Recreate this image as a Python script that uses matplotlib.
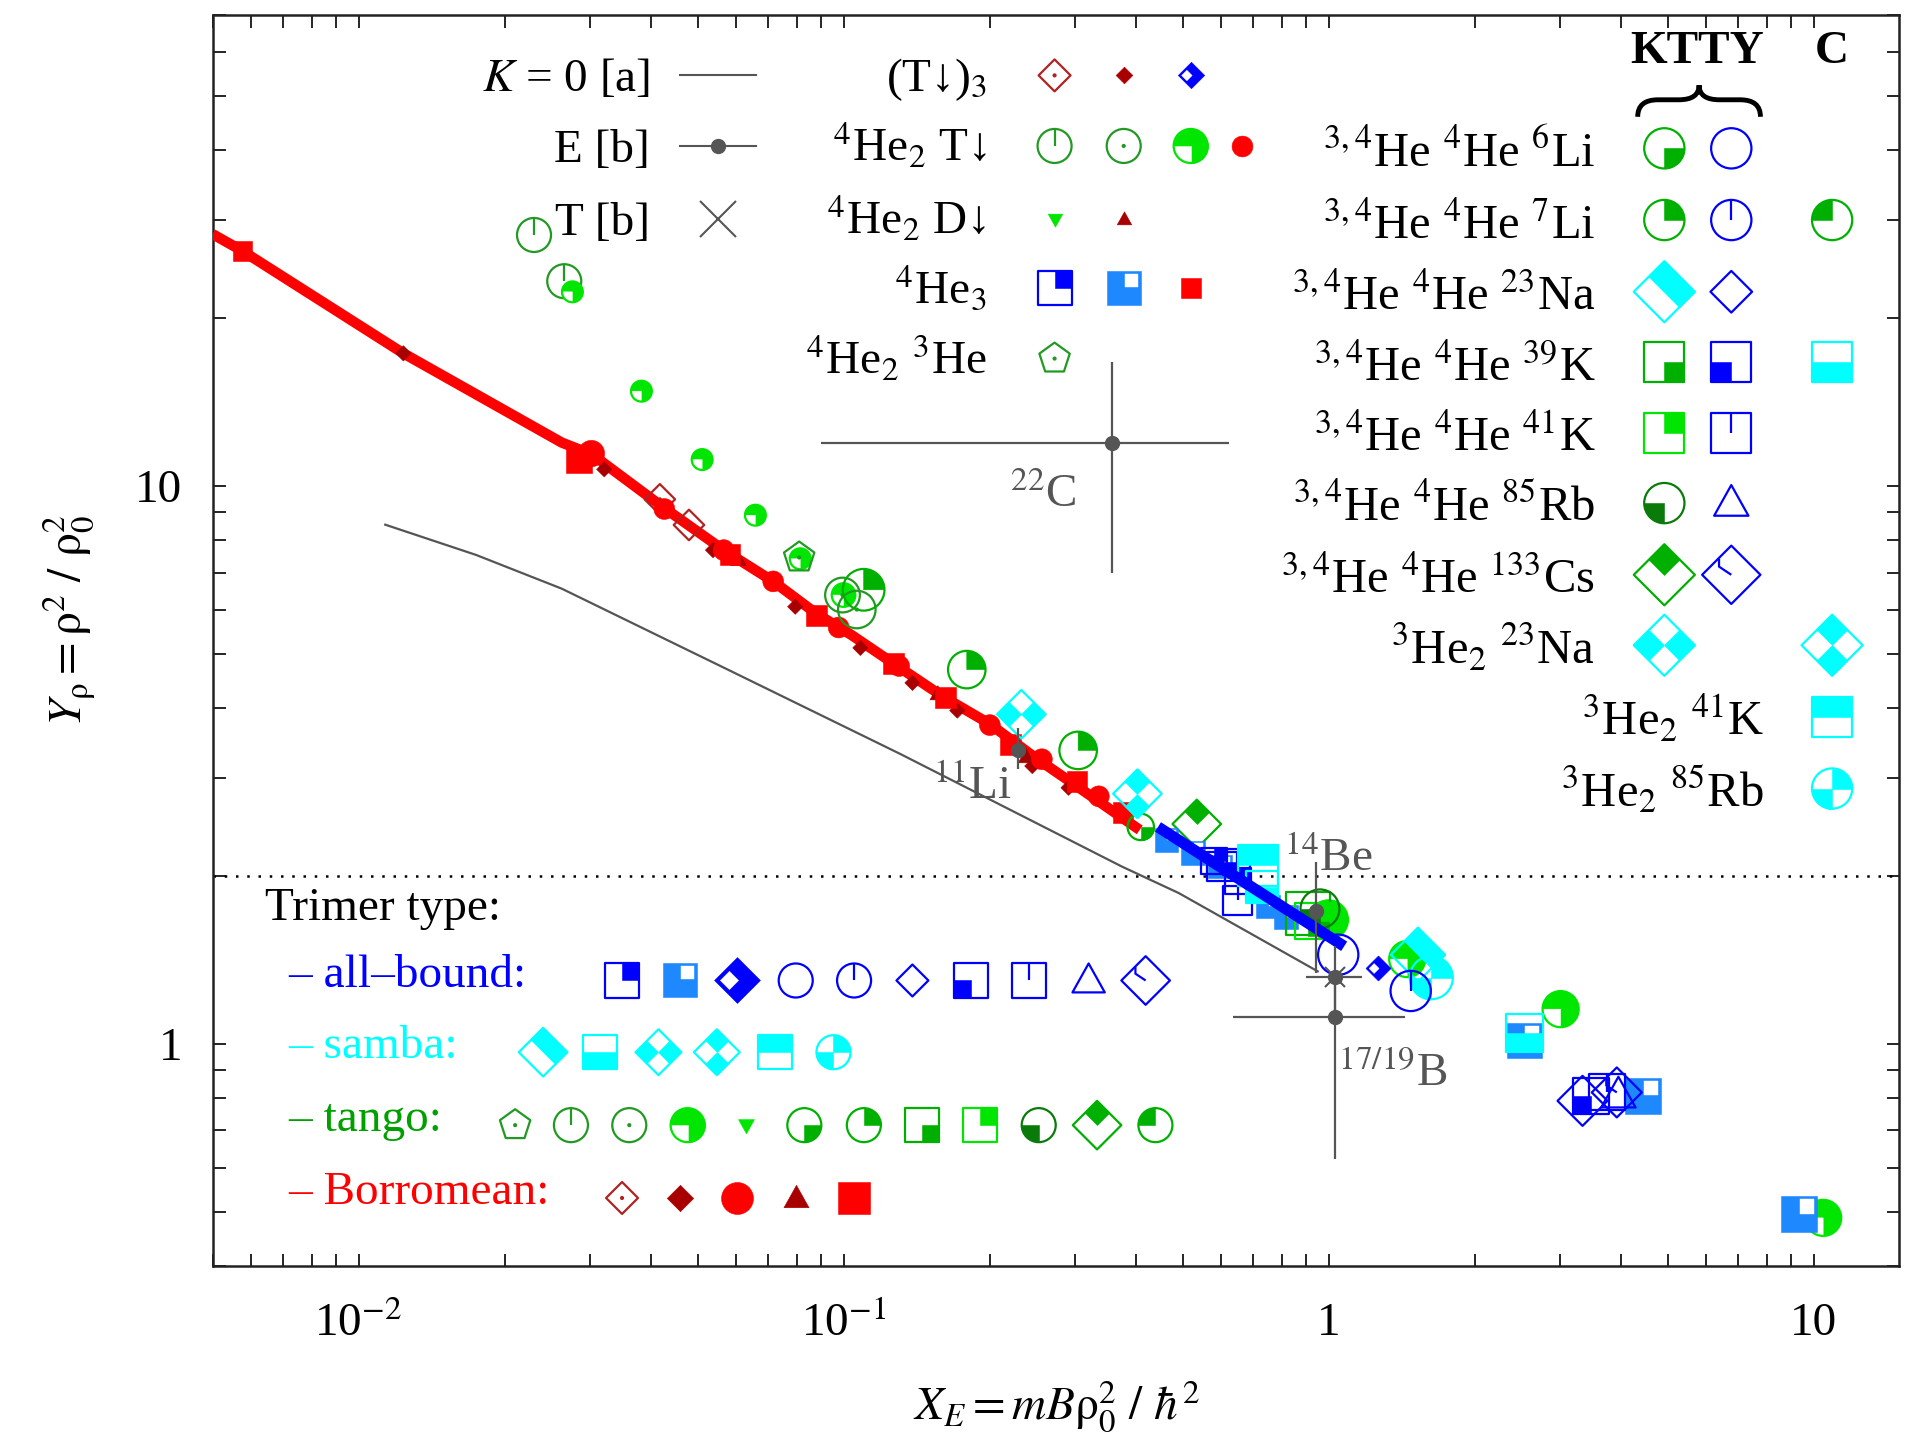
import numpy as np
import matplotlib
matplotlib.use("Agg")
import matplotlib.pyplot as plt
from matplotlib.path import Path
from matplotlib.patches import PathPatch
from matplotlib.ticker import LogLocator, NullFormatter, FixedLocator, FixedFormatter

plt.rcParams['font.family'] = ['Liberation Serif', 'DejaVu Serif']
plt.rcParams['mathtext.fontset'] = 'stix'

# ---------------- data ----------------
# K = 0 model curve [a]
k0_x = [0.01135, 0.01746, 0.02624, 0.0583, 0.131, 0.375, 0.491, 0.950]
k0_y = [8.53, 7.53, 6.55, 4.67, 3.31, 2.08, 1.865, 1.35]

# thick fit line: Borromean part (red) and all-bound part (blue)
red_x = [0.005, 0.00576, 0.01237, 0.02624, 0.0303, 0.0420, 0.0566, 0.0716,
         0.0881, 0.1035, 0.125, 0.160, 0.200, 0.245, 0.306, 0.408]
red_y = [28.3, 26.4, 17.3, 11.97, 11.4, 9.23, 7.68, 6.75,
         5.90, 5.42, 4.85, 4.20, 3.75, 3.29, 2.88, 2.42]
blue_x = [0.445, 1.077]
blue_y = [2.45, 1.497]

# nuclei, E [b] with error bars
nuc_x = [0.358, 0.229, 0.944, 1.029, 1.029]
nuc_y = [11.97, 3.37, 1.73, 1.32, 1.116]
nuc_xlo = [0.090, 0.229, 0.944, 0.897, 0.635]
nuc_xhi = [0.624, 0.229, 0.944, 1.175, 1.436]
nuc_ylo = [6.98, 3.11, 1.342, 1.116, 0.623]
nuc_yhi = [16.7, 3.69, 2.12, 1.497, 1.32]
nuc_names = ['$^{22}$C', '$^{11}$Li', '$^{14}$Be', '$^{17/19}$B']
nuc_lab_x = [0.2209, 0.153, 0.809, 1.047]
nuc_lab_y = [9.19, 2.75, 2.04, 0.840]
# T [b]
tb_x = [1.029]
tb_y = [1.32]

# Borromean (red) trimers
bor_sq_x = [0.00576, 0.02844, 0.0583, 0.0881, 0.1266, 0.162, 0.2209, 0.3029, 0.377]
bor_sq_y = [26.4, 11.16, 7.53, 5.87, 4.81, 4.18, 3.44, 2.96, 2.60]
bor_ci_x = [0.0302, 0.0427, 0.0566, 0.0716, 0.0977, 0.1302, 0.2003, 0.2564, 0.336]
bor_ci_y = [11.44, 9.10, 7.68, 6.75, 5.58, 4.76, 3.73, 3.24, 2.78]
bor_di_x = [0.01237, 0.0321, 0.0538, 0.0795, 0.1083, 0.1387, 0.1716, 0.245, 0.291]
bor_di_y = [17.3, 10.72, 7.68, 6.08, 5.13, 4.44, 3.96, 3.15, 2.88]
bor_tr_x = [0.0607, 0.1565, 0.238]
bor_tr_y = [7.38, 4.24, 3.27]
bor_od_x = [0.0418, 0.048]
bor_od_y = [9.47, 8.52]

# tango (green) trimers
he2t_ring_x = [0.0230, 0.02655]
he2t_ring_y = [28.2, 23.3]
he2t_full_x = [0.0276, 0.0383, 0.0511, 0.0658, 0.0814, 0.100, 1.0, 1.453, 3.01, 10.47]
he2t_full_y = [22.3, 14.8, 11.16, 8.87, 7.41, 6.38, 1.67, 1.42, 1.155, 0.488]
he2t_dot_x = [0.0995, 0.1065]
he2t_dot_y = [6.38, 6.01]
he23_x = [0.081]
he23_y = [7.45]
li7_k_x = [0.110, 0.1795, 0.3046]
li7_k_y = [6.52, 4.69, 3.36]
li6_k_x = [0.41]
li6_k_y = [2.45]
cs_k_x = [0.535]
cs_k_y = [2.48]
k39_k_x = [0.907]
k39_k_y = [1.713]
k41_k_x = [0.928]
k41_k_y = [1.66]
rb_k_x = [0.960]
rb_k_y = [1.747]

# samba (cyan) trimers
na3_k_x = [0.2326]
na3_k_y = [3.90]
na3_c_x = [0.4036]
na3_c_y = [2.81]
k41_3c_x = [0.716]
k41_3c_y = [2.09]
k39_c_x = [0.729, 2.535]
k39_c_y = [1.91, 1.046]
na_k_x = [1.529]
na_k_y = [1.446]
rb3_c_x = [1.629]
rb3_c_y = [1.315]

# all-bound (blue) trimers
he3_a_x = [0.580, 0.650]
he3_a_y = [2.13, 1.96]
he3_b_x = [0.463, 0.526, 0.5965, 0.750, 0.818, 2.535, 4.45, 9.33]
he3_b_y = [2.32, 2.20, 2.08, 1.765, 1.688, 1.015, 0.807, 0.495]
k39_b_x = [0.646, 3.48]
k39_b_y = [2.12, 0.807]
k41_b_x = [0.603, 0.650, 3.75]
k41_b_y = [2.08, 1.81, 0.819]
li6_b_x = [1.047]
li6_b_y = [1.446]
li7_b_x = [1.477]
li7_b_y = [1.245]
t3_b_x = [1.265]
t3_b_y = [1.369]
na_b_x = [3.34]
na_b_y = [0.791]
rb_b_x = [3.96]
rb_b_y = [0.811]
cs_b_x = [3.93]
cs_b_y = [0.819]

# ---------------- colours ----------------
BL = '#0000ff'; AZ = '#1e88ff'; CY = '#00ffff'
GD = '#229922'; GM = '#00b000'; GB = '#00e600'; GK = '#0a7a0a'
RD = '#ff0000'; DR = '#a80000'; FB = '#b22222'
GR = '#555555'
FS = 34

# ---------------- gnuplot-like symbols ----------------
def poly(*pts):
    v = list(pts) + [pts[0]]
    return Path(v, [Path.MOVETO] + [Path.LINETO] * (len(pts) - 1) + [Path.CLOSEPOLY])

def seg(*pts):
    return Path(list(pts), [Path.MOVETO] + [Path.LINETO] * (len(pts) - 1))

def shp(p):
    # extra moveto keeps every part on the same unit scale
    return Path.make_compound_path(Path([(1.0, 1.0)], [Path.MOVETO]), p)

CIRC = Path.unit_circle()
wdg = Path.wedge
SQ = poly((-1, -1), (1, -1), (1, 1), (-1, 1))
DIA = poly((0, 1), (1, 0), (0, -1), (-1, 0))
TRI = poly((0, 1), (0.95, -0.7), (-0.95, -0.7))
TRID = poly((0, -1), (0.95, 0.7), (-0.95, 0.7))
PENT = poly(*[(np.cos(np.pi / 2 + 2 * np.pi * k / 5), np.sin(np.pi / 2 + 2 * np.pi * k / 5)) for k in range(5)])
VL = seg((0, 0), (0, 1))

def sqq(sx, sy):
    return poly((0, 0), (sx, 0), (sx, sy), (0, sy))

def dq(cx, cy):
    return poly((cx, cy + .5), (cx + .5, cy), (cx, cy - .5), (cx - .5, cy))

KINDS = {
    'dia_dot': [(DIA, 'e'), (None, 'd')],
    'dia_f': [(DIA, 'f')],
    'dia_thick': [(DIA, 'f'), (poly((-0.35, 0.4), (0.05, 0), (-0.35, -0.4), (-0.75, 0)), 'w')],
    'circ_line': [(CIRC, 'e'), (VL, 'e')],
    'circ_dot': [(CIRC, 'e'), (None, 'd')],
    'circ_wBL': [(CIRC, 'f'), (wdg(180, 270), 'w'), (CIRC, 'e')],
    'circ_f': [(CIRC, 'f')],
    'tri_down': [(TRID, 'f')],
    'tri_up': [(TRI, 'f')],
    'tri_open': [(TRI, 'e')],
    'sq_TR': [(sqq(1, 1), 'f'), (SQ, 'e')],
    'sq_BR': [(sqq(1, -1), 'f'), (SQ, 'e')],
    'sq_BL': [(sqq(-1, -1), 'f'), (SQ, 'e')],
    'sq_wTR': [(SQ, 'f'), (poly((0.05, 0.05), (0.85, 0.05), (0.85, 0.85), (0.05, 0.85)), 'w')],
    'sq_f': [(SQ, 'f')],
    'sq_line': [(SQ, 'e'), (VL, 'e')],
    'sq_Thalf': [(poly((-1, 0), (1, 0), (1, 1), (-1, 1)), 'f'), (SQ, 'e')],
    'sq_Bhalf': [(poly((-1, -1), (1, -1), (1, 0), (-1, 0)), 'f'), (SQ, 'e')],
    'pent_dot': [(PENT, 'e'), (None, 'd')],
    'circ_open': [(CIRC, 'e')],
    'circ_TR': [(wdg(0, 90), 'f'), (CIRC, 'e')],
    'circ_TL': [(wdg(90, 180), 'f'), (CIRC, 'e')],
    'circ_BL': [(wdg(180, 270), 'f'), (CIRC, 'e')],
    'circ_BR': [(wdg(270, 360), 'f'), (CIRC, 'e')],
    'circ_TRBL': [(wdg(0, 90), 'f'), (wdg(180, 270), 'f'), (CIRC, 'e')],
    'dia_open': [(DIA, 'e')],
    'dia_half': [(poly((-0.5, 0.5), (0, 1), (1, 0), (0.5, -0.5)), 'f'), (DIA, 'e')],
    'dia_top': [(dq(0, 0.5), 'f'), (DIA, 'e')],
    'dia_LR': [(dq(-0.5, 0), 'f'), (dq(0.5, 0), 'f'), (DIA, 'e')],
    'dia_TB': [(dq(0, 0.5), 'f'), (dq(0, -0.5), 'f'), (DIA, 'e')],
    'dia_mark': [(DIA, 'e'), (seg((-0.42, 0.56), (-0.42, 0.28), (0, 0)), 'e')],
}
KINDS = {k: [(shp(p) if p is not None else None, m) for p, m in v] for k, v in KINDS.items()}

fig = plt.figure(figsize=(19.05, 14.4), dpi=100)
ax = fig.add_axes([0.1116, 0.1208, 0.8852, 0.8690])
ax.set_xscale('log')
ax.set_yscale('log')
ax.set_xlim(0.005, 15)
ax.set_ylim(0.4, 70)
ax.autoscale(False)


def draw(kind, col, xs, ys, sz, trans=None, z=4):
    sz = np.broadcast_to(np.asarray(sz, float), (len(xs),))
    kw = dict(zorder=z)
    if trans is not None:
        kw['transform'] = trans
        kw['clip_on'] = False
    for p, mode in KINDS[kind]:
        if mode == 'd':
            ax.scatter(xs, ys, s=9, marker='o', facecolors=col, edgecolors='none', **kw)
        elif mode == 'f':
            ax.scatter(xs, ys, s=sz ** 2, marker=p, facecolors=col, edgecolors=col, linewidths=0.4, **kw)
        elif mode == 'w':
            ax.scatter(xs, ys, s=sz ** 2, marker=p, facecolors='white', edgecolors='white', linewidths=0.3, **kw)
        else:
            ax.scatter(xs, ys, s=sz ** 2, marker=p, facecolors='none', edgecolors=col, linewidths=1.6, **kw)


# lines
ax.plot(k0_x, k0_y, color=GR, lw=1.6, zorder=2)
ax.axhline(2, color='black', lw=1.8, ls=(0, (1, 3.5)), zorder=1)
ax.plot(red_x, red_y, color=RD, lw=7.5, zorder=3, solid_capstyle='butt')

# data points
series = [
    ('dia_dot', FB, 22, bor_od_x, bor_od_y),
    ('dia_f', DR, 11, bor_di_x, bor_di_y),
    ('tri_up', DR, 12, bor_tr_x, bor_tr_y),
    ('circ_f', RD, [19, 15, 15, 15, 15, 15, 15, 15, 15], bor_ci_x, bor_ci_y),
    ('sq_f', RD, [14, 19, 15, 15, 15, 15, 15, 15, 15], bor_sq_x, bor_sq_y),
    ('circ_line', GD, 24.5, he2t_ring_x, he2t_ring_y),
    ('circ_wBL', GB, [15, 15, 15, 15, 15, 17, 28, 26, 26, 26], he2t_full_x, he2t_full_y),
    ('pent_dot', GD, 23, he23_x, he23_y),
    ('circ_dot', GD, [25, 27], he2t_dot_x, he2t_dot_y),
    ('circ_TR', GM, [30, 27, 27], li7_k_x, li7_k_y),
    ('circ_BR', GM, 19, li6_k_x, li6_k_y),
    ('dia_LR', CY, 35, na3_k_x, na3_k_y),
    ('dia_TB', CY, 35, na3_c_x, na3_c_y),
    ('dia_top', GM, 35, cs_k_x, cs_k_y),
    ('sq_wTR', AZ, [17, 17, 17, 17, 17, 25, 26, 26], he3_b_x, he3_b_y),
    ('sq_TR', BL, 19, he3_a_x, he3_a_y),
    ('sq_BL', BL, [19, 26], k39_b_x, k39_b_y),
    ('sq_line', BL, [21, 21, 26], k41_b_x, k41_b_y),
    ('sq_Thalf', CY, 29, k41_3c_x, k41_3c_y),
    ('sq_Bhalf', CY, [23, 27], k39_c_x, k39_c_y),
    ('sq_BR', GM, 31, k39_k_x, k39_k_y),
    ('sq_TR', GB, 26, k41_k_x, k41_k_y),
    ('circ_BL', GK, 28, rb_k_x, rb_k_y),
    ('circ_open', BL, 29, li6_b_x, li6_b_y),
    ('dia_thick', BL, 18, t3_b_x, t3_b_y),
    ('dia_half', CY, 39, na_k_x, na_k_y),
    ('circ_TRBL', CY, 31, rb3_c_x, rb3_c_y),
    ('circ_line', BL, 29, li7_b_x, li7_b_y),
    ('dia_open', BL, 36, na_b_x, na_b_y),
    ('tri_open', BL, 26, rb_b_x, rb_b_y),
    ('dia_mark', BL, 36, cs_b_x, cs_b_y),
]
for kind, col, sz, xs, ys in series:
    draw(kind, col, xs, ys, sz)

ax.plot(blue_x, blue_y, color=BL, lw=8, zorder=5, solid_capstyle='butt')

# nuclei
nx = np.array(nuc_x); ny = np.array(nuc_y)
ax.errorbar(nx, ny, xerr=[nx - np.array(nuc_xlo), np.array(nuc_xhi) - nx],
            yerr=[ny - np.array(nuc_ylo), np.array(nuc_yhi) - ny],
            fmt='o', color=GR, ms=10, elinewidth=1.6, capsize=0, zorder=7)
ax.plot(tb_x, tb_y, 'x', color=GR, ms=14, mew=1.5, zorder=7)
for lab, lx, ly in zip(nuc_names, nuc_lab_x, nuc_lab_y):
    ax.text(lx, ly, lab, color=GR, fontsize=FS, ha='left', va='baseline', zorder=8)

# ---------------- key, top left ----------------
T = ax.transAxes
tl_y = [0.9515, 0.8951, 0.8369, 0.7816, 0.7252]
ax.text(0.2594, tl_y[0] - 0.0126, '$K$ = 0 [a]', ha='right', va='baseline', transform=T, fontsize=FS)
ax.plot([0.2774, 0.3220], [tl_y[0]] * 2, color=GR, lw=1.5, transform=T)
ax.text(0.2594, tl_y[1] - 0.0126, 'E [b]', ha='right', va='baseline', transform=T, fontsize=FS)
ax.plot([0.2774, 0.3220], [tl_y[1]] * 2, color=GR, lw=1.5, transform=T)
ax.plot([0.2997], [tl_y[1]], 'o', ms=10, color=GR, transform=T)
ax.text(0.2594, tl_y[2] - 0.0126, 'T [b]', ha='right', va='baseline', transform=T, fontsize=FS)
ax.plot([0.2997], [tl_y[2]], 'x', ms=26, mew=1.5, color=GR, transform=T)

tl_txt = ['(T↓)$_3$', '$^4$He$_2$ T↓', '$^4$He$_2$ D↓', '$^4$He$_3$', '$^4$He$_2$ $^3$He']
tl_sym = [[('dia_dot', FB, 23), ('dia_f', DR, 12), ('dia_thick', BL, 19)],
          [('circ_line', GD, 24.5), ('circ_dot', GD, 24.5), ('circ_wBL', GB, 24.5), ('circ_f', RD, 15)],
          [('tri_down', GB, 11), ('tri_up', DR, 11)],
          [('sq_TR', BL, 24.5), ('sq_wTR', AZ, 24.5), ('sq_f', RD, 14)],
          [('pent_dot', GD, 23)]]
tl_cols = [0.4993, 0.5403, 0.5800, 0.6102]
for y, txt, syms in zip(tl_y, tl_txt, tl_sym):
    ax.text(0.4589, y - 0.0126, txt, ha='right', va='baseline', transform=T, fontsize=FS)
    for cx, (kind, col, sz) in zip(tl_cols, syms):
        draw(kind, col, [cx], [y], [sz], trans=T, z=6)

# ---------------- key, top right ----------------
ax.text(0.8804, 0.9699, 'KTTY', ha='center', va='center', transform=T, fontsize=FS, fontweight='bold')
ax.text(0.9604, 0.9699, 'C', ha='center', va='center', transform=T, fontsize=FS, fontweight='bold')
x0, x1, xm = 0.8451, 0.9179, 0.8815
yl, ym, yt = 0.9184, 0.9320, 0.9437
brace = Path([(x0, yl), (x0, ym), (x0 + 0.012, ym), (xm - 0.012, ym), (xm, ym), (xm, yt),
              (xm, ym), (xm + 0.012, ym), (x1 - 0.012, ym), (x1, ym), (x1, yl)],
             [Path.MOVETO, Path.CURVE3, Path.CURVE3, Path.LINETO, Path.CURVE3, Path.CURVE3,
              Path.CURVE3, Path.CURVE3, Path.LINETO, Path.CURVE3, Path.CURVE3])
ax.add_patch(PathPatch(brace, transform=T, fill=False, lw=3.5, color='black', clip_on=False))

tr_y = [0.8932, 0.8359, 0.7786, 0.7223, 0.6660, 0.6097, 0.5524, 0.4961, 0.4388, 0.3816]
tr_txt = ['$^{3,4}$He $^4$He $^6$Li', '$^{3,4}$He $^4$He $^7$Li', '$^{3,4}$He $^4$He $^{23}$Na',
          '$^{3,4}$He $^4$He $^{39}$K', '$^{3,4}$He $^4$He $^{41}$K', '$^{3,4}$He $^4$He $^{85}$Rb',
          '$^{3,4}$He $^4$He $^{133}$Cs', '$^3$He$_2$ $^{23}$Na', '$^3$He$_2$ $^{41}$K',
          '$^3$He$_2$ $^{85}$Rb']
tr_tx = [0.8199] * 8 + [0.9200] * 2
tr_cols = [0.8609, 0.9006, 0.9604]
tr_sym = [[(0, 'circ_BR', GM, 29), (1, 'circ_open', BL, 29)],
          [(0, 'circ_TR', GM, 29), (1, 'circ_line', BL, 29), (2, 'circ_TL', GM, 29)],
          [(0, 'dia_half', CY, 44), (1, 'dia_open', BL, 30)],
          [(0, 'sq_BR', GM, 29), (1, 'sq_BL', BL, 29), (2, 'sq_Bhalf', CY, 29)],
          [(0, 'sq_TR', GB, 29), (1, 'sq_line', BL, 29)],
          [(0, 'circ_BL', GK, 29), (1, 'tri_open', BL, 26)],
          [(0, 'dia_top', GM, 44), (1, 'dia_mark', BL, 42)],
          [(0, 'dia_LR', CY, 44), (2, 'dia_TB', CY, 44)],
          [(2, 'sq_Thalf', CY, 29)],
          [(2, 'circ_TRBL', CY, 29)]]
for y, tx, txt, syms in zip(tr_y, tr_tx, tr_txt, tr_sym):
    ax.text(tx, y - 0.0146, txt, ha='right', va='baseline', transform=T, fontsize=FS + 1)
    for ci, kind, col, sz in syms:
        draw(kind, col, [tr_cols[ci]], [y], [sz], trans=T, z=6)

# ---------------- key, bottom left ----------------
ax.text(0.0310, 0.2767, 'Trimer type:', ha='left', va='baseline', transform=T, fontsize=FS)
bl_rows = [
    ('– all–bound:', BL, 0.2282,
     [0.2428, 0.2774, 0.3112, 0.3458, 0.3804, 0.4150, 0.4496, 0.4841, 0.5195, 0.5533],
     [('sq_TR', BL, 24.5), ('sq_wTR', AZ, 24.5), ('dia_thick', BL, 33), ('circ_open', BL, 24.5),
      ('circ_line', BL, 24.5), ('dia_open', BL, 23), ('sq_BL', BL, 24.5), ('sq_line', BL, 24.5),
      ('tri_open', BL, 24.5), ('dia_mark', BL, 35)]),
    ('– samba:', CY, 0.1709,
     [0.1960, 0.2298, 0.2644, 0.2990, 0.3336, 0.3682],
     [('dia_half', CY, 35), ('sq_Bhalf', CY, 24.5), ('dia_LR', CY, 33), ('dia_TB', CY, 33),
      ('sq_Thalf', CY, 24.5), ('circ_TRBL', CY, 24.5)]),
    ('– tango:', '#00a000', 0.1126,
     [0.1794, 0.2125, 0.2471, 0.2817, 0.3163, 0.3509, 0.3862, 0.4207, 0.4553, 0.4899, 0.5245, 0.5591],
     [('pent_dot', GD, 23), ('circ_line', GD, 24.5), ('circ_dot', GD, 24.5), ('circ_wBL', GB, 24.5),
      ('tri_down', GB, 12), ('circ_BR', GM, 24.5), ('circ_TR', GM, 24.5), ('sq_BR', GM, 24.5),
      ('sq_TR', GB, 24.5), ('circ_BL', GK, 24.5), ('dia_top', GM, 35), ('circ_TL', GM, 24.5)]),
    ('– Borromean:', RD, 0.0544,
     [0.2428, 0.2774, 0.3112, 0.3458, 0.3804],
     [('dia_dot', FB, 23), ('dia_f', DR, 19), ('circ_f', RD, 23), ('tri_up', DR, 19), ('sq_f', RD, 23)]),
]
for txt, tcol, y, xs, syms in bl_rows:
    ax.text(0.0447, y - 0.005, txt, color=tcol, ha='left', va='baseline', transform=T, fontsize=FS)
    for cx, (kind, col, sz) in zip(xs, syms):
        draw(kind, col, [cx], [y], [sz], trans=T, z=6)

# ---------------- axes ----------------
ax.xaxis.set_major_locator(FixedLocator([0.01, 0.1, 1, 10]))
ax.xaxis.set_major_formatter(FixedFormatter(['10$^{-2}$', '10$^{-1}$', '1', '10']))
ax.xaxis.set_minor_locator(LogLocator(base=10, subs=np.arange(2, 10), numticks=50))
ax.xaxis.set_minor_formatter(NullFormatter())
ax.yaxis.set_major_locator(FixedLocator([1, 10]))
ax.yaxis.set_major_formatter(FixedFormatter(['1', '10']))
ax.yaxis.set_minor_locator(LogLocator(base=10, subs=np.arange(2, 10), numticks=50))
ax.yaxis.set_minor_formatter(NullFormatter())
ax.tick_params(which='both', direction='in', top=True, right=True, length=9, width=1.2, labelsize=FS)
ax.tick_params(axis='x', pad=26)
ax.tick_params(axis='y', pad=22)
for s in ax.spines.values():
    s.set_linewidth(1.8)
    s.set_color('#222222')

ax.text(0.5007, -0.112, r'$X_E = mB\mathrm{\rho}_0^2\ /\ \hbar^2$', ha='center', va='center',
        transform=T, fontsize=FS)
ax.text(-0.085, 0.516, r'$Y_{\mathrm{\rho}} = \mathrm{\rho}^2\ /\ \mathrm{\rho}_0^2$', ha='center', va='center',
        rotation=90, transform=T, fontsize=FS)

fig.savefig('out.png', dpi=100)
